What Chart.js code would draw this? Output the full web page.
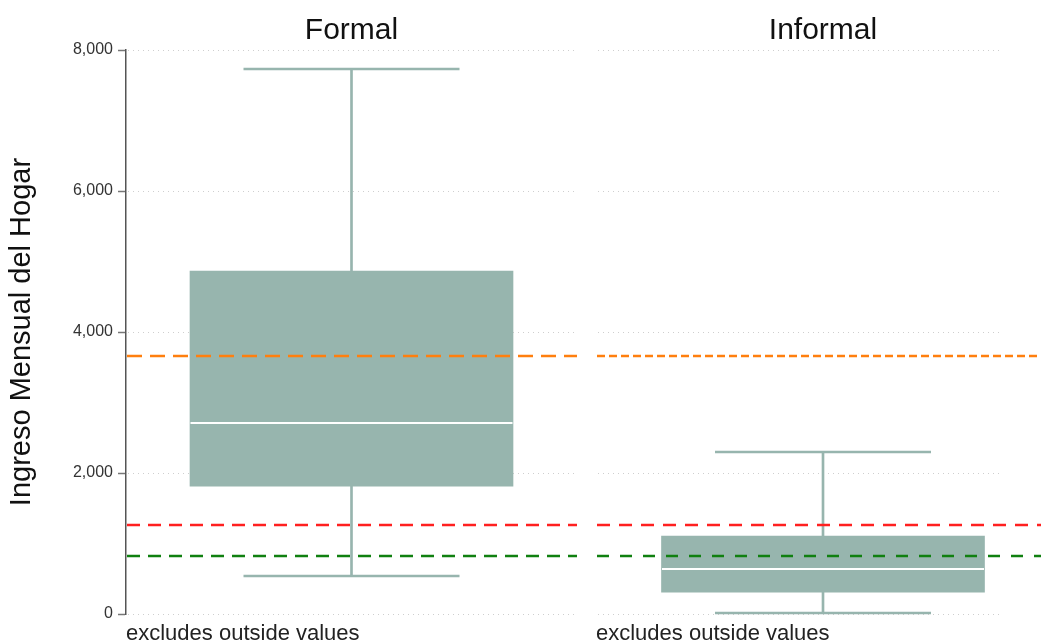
<!DOCTYPE html>
<html>
<head>
<meta charset="utf-8">
<script src="https://cdn.jsdelivr.net/npm/chart.js@4.4.1/dist/chart.umd.min.js"></script>
<style>
  html, body { margin: 0; padding: 0; background: #fff; }
  body { width: 1041px; height: 643px; overflow: hidden; position: relative; }
  .panel { position: absolute; top: 0; height: 643px; }
  #left { left: 0; width: 586px; }
  #right { left: 586px; width: 464px; }
</style>
</head>
<body>
<div class="panel" id="left"><canvas id="formal"></canvas></div>
<div class="panel" id="right"><canvas id="informal"></canvas></div>
<script>
// box statistics (household monthly income)
const groups = ['Formal', 'Informal'];
const whiskerLow = [540, 15];
const quart1 = [1815, 310];
const medians = [2710, 640];
const quart3 = [4865, 1105];
const whiskerHigh = [7730, 2300];

// reference lines
const refValues = [3660, 1262, 823];
const refColors = ['#ff7f0e', '#ff2020', '#108010'];

const yTicks = [0, 2000, 4000, 6000, 8000];

const BOX_COLOR = '#97b5ae';

// dotted grid (limited width on the right panel) and dashed reference lines
const refLinesPlugin = {
  id: 'refLines',
  beforeDatasetsDraw(chart, args, opts) {
    const { ctx, chartArea } = chart;
    const y = chart.scales.y;
    const right = opts.gridRight ? chartArea.left + opts.gridRight : chartArea.right;
    ctx.save();
    ctx.strokeStyle = '#cfcfcf';
    ctx.lineWidth = 1;
    ctx.setLineDash([1, 4]);
    yTicks.forEach((v) => {
      const py = Math.round(y.getPixelForValue(v)) + 0.5;
      ctx.beginPath();
      ctx.moveTo(chartArea.left + 2, py);
      ctx.lineTo(right, py);
      ctx.stroke();
    });
    ctx.restore();
  },
  afterDatasetsDraw(chart, args, opts) {
    const { ctx, chartArea } = chart;
    const y = chart.scales.y;
    ctx.save();
    refValues.forEach((v, i) => {
      const py = y.getPixelForValue(v);
      ctx.beginPath();
      ctx.strokeStyle = refColors[i];
      ctx.lineWidth = 2.5;
      ctx.setLineDash(opts.dashes[i]);
      ctx.moveTo(chartArea.left + 1, py);
      ctx.lineTo(chartArea.right, py);
      ctx.stroke();
    });
    ctx.restore();
  }
};

function makePanel(canvasId, idx, opts) {
  const label = groups[idx];
  return new Chart(document.getElementById(canvasId), {
    type: 'bar',
    data: {
      labels: [label],
      datasets: [
        {
          // box from Q1 to Q3
          data: [[quart1[idx], quart3[idx]]],
          backgroundColor: BOX_COLOR,
          borderWidth: 0,
          barThickness: 323,
          grouped: false,
          order: 3
        },
        {
          // upper whisker
          data: [[quart3[idx], whiskerHigh[idx]]],
          backgroundColor: BOX_COLOR,
          borderWidth: 0,
          barThickness: 2,
          grouped: false,
          order: 4
        },
        {
          // lower whisker
          data: [[whiskerLow[idx], quart1[idx]]],
          backgroundColor: BOX_COLOR,
          borderWidth: 0,
          barThickness: 2,
          grouped: false,
          order: 4
        },
        {
          // whisker caps
          type: 'line',
          data: [whiskerHigh[idx]],
          showLine: false,
          pointStyle: 'line',
          pointRadius: 108,
          pointBorderWidth: 2.5,
          pointBorderColor: BOX_COLOR,
          clip: false,
          order: 2
        },
        {
          type: 'line',
          data: [whiskerLow[idx]],
          showLine: false,
          pointStyle: 'line',
          pointRadius: 108,
          pointBorderWidth: 2.5,
          pointBorderColor: BOX_COLOR,
          clip: false,
          order: 2
        },
        {
          // median
          type: 'line',
          data: [medians[idx]],
          showLine: false,
          pointStyle: 'line',
          pointRadius: 161,
          pointBorderWidth: 2,
          pointBorderColor: '#ffffff',
          clip: false,
          order: 1
        }
      ]
    },
    options: {
      responsive: true,
      maintainAspectRatio: false,
      animation: false,
      events: [],
      layout: { padding: opts.padding, autoPadding: false },
      plugins: {
        legend: { display: false },
        tooltip: { enabled: false },
        title: {
          display: true,
          fullSize: false,
          text: label,
          color: '#111',
          font: { family: 'Liberation Sans', size: 30, weight: 'normal', lineHeight: 1.1 },
          padding: { top: 14, bottom: 3 }
        },
        subtitle: {
          display: true,
          position: 'bottom',
          align: 'start',
          fullSize: false,
          text: 'excludes outside values',
          color: '#222',
          font: { family: 'Liberation Sans', size: 22, weight: 'normal', lineHeight: 0.86 },
          padding: { top: 10, bottom: 0 }
        },
        refLines: { dashes: opts.dashes, gridRight: opts.gridRight }
      },
      scales: {
        x: {
          display: false,
          offset: true
        },
        y: {
          min: 0,
          max: 8000,
          afterBuildTicks: (scale) => { scale.ticks = yTicks.map(v => ({ value: v })); },
          afterFit: (scale) => { scale.width = opts.axisWidth; },
          ticks: {
            display: opts.showAxis,
            color: '#333',
            padding: 5,
            font: { family: 'Liberation Sans', size: 16 },
            callback: (v) => v.toLocaleString('en-US')
          },
          grid: {
            drawOnChartArea: false,
            drawTicks: opts.showAxis,
            tickLength: 8,
            tickColor: '#777',
            tickWidth: 1.5
          },
          border: {
            display: opts.showAxis,
            color: '#555',
            width: 1.5
          },
          title: {
            display: opts.showAxis,
            text: 'Ingreso Mensual del Hogar',
            color: '#111',
            font: { family: 'Liberation Sans', size: 29 },
            padding: { top: 5, bottom: 0 }
          }
        }
      }
    },
    plugins: [refLinesPlugin]
  });
}

makePanel('formal', 0, {
  padding: { left: 0, right: 9, top: 0, bottom: 0 },
  axisWidth: 126,
  showAxis: true,
  gridRight: 0,
  dashes: [[15, 8], [13, 8], [13, 8]]
});

makePanel('informal', 1, {
  padding: { left: 10, right: 0, top: 0, bottom: 0 },
  axisWidth: 0,
  showAxis: false,
  gridRight: 406,
  dashes: [[8, 4], [13, 9], [12, 11]]
});
</script>
</body>
</html>
